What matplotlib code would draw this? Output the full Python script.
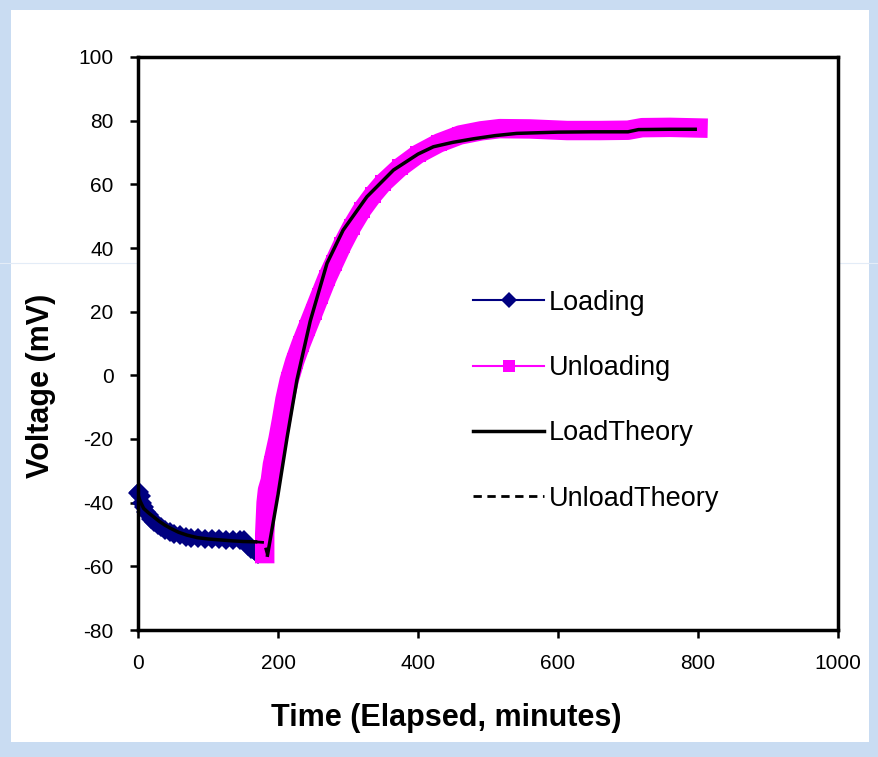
import matplotlib
matplotlib.use("Agg")
import matplotlib.pyplot as plt
import numpy as np
from matplotlib.lines import Line2D
from matplotlib.patches import Rectangle

plt.rcParams["font.family"] = ["Liberation Sans", "DejaVu Sans"]
plt.rcParams["axes.unicode_minus"] = False

# Loading data (time in minutes, voltage in mV)
load_t = [0, 2, 4, 6, 9, 12, 15, 19, 23, 28, 33, 39, 45, 52, 60, 68, 76, 85,
          95, 105, 115, 125, 135, 145, 152, 157, 161, 165, 169, 172]
load_v = [-37, -36.5, -38, -40, -41.5, -43, -44, -45, -46, -47, -47.8, -48.5,
          -49.2, -49.8, -50.3, -50.7, -51, -51.2, -51.4, -51.5, -51.5, -51.6,
          -51.6, -51.6, -51.6, -53.5, -54.5, -55, -55.5, -56]

# Unloading data
unload_t = [181, 181, 182, 183, 185, 189, 192, 196, 200, 205, 210, 216, 224,
            233, 242, 251, 260, 270, 280, 292, 305, 320, 335, 350, 374, 400,
            430, 460, 490, 517, 560, 613, 660, 700, 720, 760, 800]
unload_v = [-56, -50, -45, -40, -36, -33, -28, -24, -20, -14, -7.5, -1.5, 4.5,
            10, 15, 20, 25, 30.5, 35.3, 41, 46.5, 52, 56.5, 60.4, 65.3, 69.5,
            73, 75.5, 76.8, 77.5, 77.4, 76.9, 76.9, 77.0, 77.8, 77.9, 77.7]

# Theory curves (nan = break between loading and unloading parts)
theory_t = [0, 3, 8, 15, 22, 30, 38, 46, 58, 70, 85, 100, 117, 135, 150, 168,
            np.nan, 185, 200, 213, 227, 246, 270, 293, 327, 365, 400, 422, 450,
            479, 510, 541, 600, 650, 700, 715, 760, 796]
theory_v = [-37.5, -39.5, -41.8, -43.2, -44.4, -45.8, -47, -48, -49.3, -50.2,
            -51, -51.4, -51.7, -52, -52.2, -52.3,
            np.nan, -56.5, -37.5, -19.5, -1.5, 17, 35.2, 45.6, 56.1, 64.5,
            69.5, 71.8, 73.2, 74.3, 75.3, 76.0, 76.4, 76.5, 76.5, 77.2, 77.3,
            77.3]
unload_theory_t = [168, 180, 185]
unload_theory_v = [-52.3, -52.5, -56.5]

navy = "#000080"
magenta = "#ff00ff"

fig = plt.figure(figsize=(8.79, 7.57), dpi=100)
fig.patch.set_facecolor("#c9dcf2")
fig.patches.append(Rectangle((11 / 879, 1 - 742 / 757), 858 / 879, 732 / 757,
                             transform=fig.transFigure, facecolor="white",
                             edgecolor="none", zorder=-2))
fig.add_artist(Line2D([0, 1], [1 - 263 / 757] * 2, color="#e3ecf7", lw=0.8,
                      zorder=-1))

ax = fig.add_axes([138 / 879, 127 / 757, 700 / 879, 573 / 757])
ax.set_zorder(1)
ax.set_facecolor("white")

ax.plot(load_t, load_v, color=navy, lw=8, marker="D", markersize=10,
        markeredgewidth=0, solid_joinstyle="round", solid_capstyle="round",
        clip_on=False, zorder=2)
ax.plot(unload_t, unload_v, color=magenta, lw=14, marker="s", markersize=12,
        markeredgewidth=0, solid_joinstyle="round", zorder=2)
ax.plot(theory_t, theory_v, color="black", lw=2.5, zorder=3)
ax.plot(unload_theory_t, unload_theory_v, color="black", lw=2, ls=(0, (3, 2)),
        zorder=3)

ax.set_xlim(0, 1000)
ax.set_ylim(-80, 100)
ax.set_xticks(np.arange(0, 1001, 200))
ax.set_yticks(np.arange(-80, 101, 20))
ax.tick_params(direction="out", length=5.5, width=1.8, labelsize=15, pad=12)
for s in ax.spines.values():
    s.set_linewidth(2.5)
    s.set_color("black")

# axis titles sit off-centre in the original
ax.set_xlabel("Time (Elapsed, minutes)", fontsize=22, fontweight="bold",
              va="center")
ax.xaxis.set_label_coords(0.44, -0.154)
ax.set_ylabel("Voltage (mV)", fontsize=22, fontweight="bold", va="center")
ax.yaxis.set_label_coords(-0.138, 0.426)

handles = [
    Line2D([], [], color=navy, lw=1.5, marker="D", markersize=8,
           markeredgewidth=0),
    Line2D([], [], color=magenta, lw=1.5, marker="s", markersize=9,
           markeredgewidth=0),
    Line2D([], [], color="black", lw=2.5),
    Line2D([], [], color="black", lw=2, ls=(0, (3, 2))),
]
labels = ["Loading", "Unloading", "LoadTheory", "UnloadTheory"]
ax.legend(handles, labels, loc="center left", bbox_to_anchor=(0.479, 0.40),
          frameon=False, fontsize=19.5, handlelength=2.6, handletextpad=0.2,
          labelspacing=1.45, borderpad=0, borderaxespad=0)

fig.savefig("out.png", dpi=100)
